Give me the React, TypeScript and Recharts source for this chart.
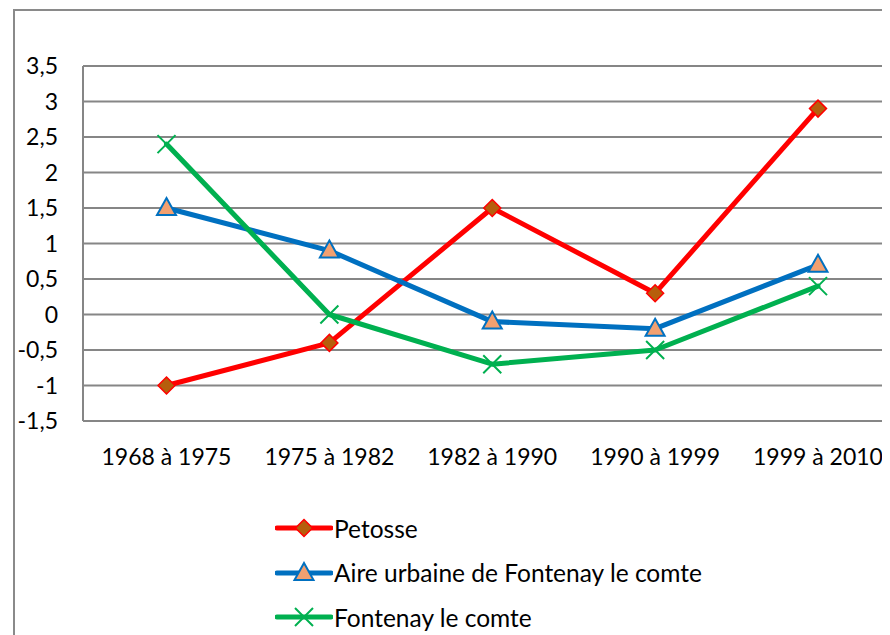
import React from 'react';
import { LineChart, Line, XAxis, YAxis, CartesianGrid, Legend } from 'recharts';

const categories = ['1968 à 1975', '1975 à 1982', '1982 à 1990', '1990 à 1999', '1999 à 2010'];
const petosse = [-1, -0.4, 1.5, 0.3, 2.9];
const aireUrbaine = [1.5, 0.9, -0.1, -0.2, 0.7];
const fontenay = [2.4, 0, -0.7, -0.5, 0.4];
const yTicks = [-1.5, -1, -0.5, 0, 0.5, 1, 1.5, 2, 2.5, 3, 3.5];
const seriesNames = ['Petosse', 'Aire urbaine de Fontenay le comte', 'Fontenay le comte'];

const data = categories.map((c, i) => ({
  cat: c,
  petosse: petosse[i],
  aire: aireUrbaine[i],
  fontenay: fontenay[i],
}));

const RED = '#FF0000';
const BLUE = '#0070C0';
const GREEN = '#00B050';
const DIAMOND_FILL = '#B65E0C';
const TRI_FILL = '#F2A070';
const FONT = 'Lato, "Open Sans", sans-serif';

const Diamond = (props: any) => {
  const { cx, cy } = props;
  if (cx == null || cy == null) return null;
  const r = 8.5;
  return (
    <path
      d={`M${cx},${cy - r}L${cx + r},${cy}L${cx},${cy + r}L${cx - r},${cy}Z`}
      fill={DIAMOND_FILL}
      stroke={RED}
      strokeWidth={1.5}
    />
  );
};

const Triangle = (props: any) => {
  const { cx, cy } = props;
  if (cx == null || cy == null) return null;
  return (
    <path
      d={`M${cx},${cy - 10}L${cx + 9.5},${cy + 7}L${cx - 9.5},${cy + 7}Z`}
      fill={TRI_FILL}
      stroke={BLUE}
      strokeWidth={2}
      strokeLinejoin="miter"
    />
  );
};

const Cross = (props: any) => {
  const { cx, cy } = props;
  if (cx == null || cy == null) return null;
  const r = 9;
  return (
    <path
      d={`M${cx - r},${cy - r}L${cx + r},${cy + r}M${cx + r},${cy - r}L${cx - r},${cy + r}`}
      stroke={GREEN}
      strokeWidth={2}
      fill="none"
    />
  );
};

const legendIcons = [
  (
    <g>
      <line x1={2} y1={12} x2={56} y2={12} stroke={RED} strokeWidth={5} strokeLinecap="round" />
      <Diamond cx={29} cy={12} />
    </g>
  ),
  (
    <g>
      <line x1={2} y1={12} x2={56} y2={12} stroke={BLUE} strokeWidth={5} strokeLinecap="round" />
      <Triangle cx={29} cy={12} />
    </g>
  ),
  (
    <g>
      <line x1={2} y1={12} x2={56} y2={12} stroke={GREEN} strokeWidth={5} strokeLinecap="round" />
      <Cross cx={29} cy={12} />
    </g>
  ),
];

const CustomLegend = () => (
  <div style={{ fontFamily: FONT, fontSize: 24.5, color: '#000' }}>
    {seriesNames.map((n, i) => (
      <div key={n} style={{ display: 'flex', alignItems: 'center', height: 44.5 }}>
        <svg width={58} height={24} style={{ display: 'block' }}>
          {legendIcons[i]}
        </svg>
        <span style={{ marginLeft: 1, whiteSpace: 'nowrap' }}>{n}</span>
      </div>
    ))}
  </div>
);

const fmt = (v: number) => String(v).replace('.', ',');

export default function App() {
  return (
    <div style={{ position: 'relative', width: 882, height: 627, overflow: 'hidden', background: '#fff' }}>
      <div
        style={{
          position: 'absolute',
          left: 5,
          top: 1,
          width: 2000,
          height: 2000,
          border: '2px solid #8a8a8a',
          boxSizing: 'border-box',
        }}
      />
      <div style={{ position: 'absolute', left: 0, top: 0 }}>
        <LineChart
          width={930}
          height={627}
          data={data}
          margin={{ top: 58, right: 40, bottom: 154, left: 0 }}
        >
          <CartesianGrid vertical={false} stroke="#868686" strokeWidth={2} />
          <XAxis
            dataKey="cat"
            padding={{ left: 83.5, right: 80 }}
            axisLine={false}
            tickLine={false}
            tickSize={6}
            tickMargin={22}
            height={60}
            interval={0}
            tick={{ fill: '#000', fontSize: 23, fontFamily: FONT }}
          />
          <YAxis
            domain={[-1.5, 3.5]}
            ticks={yTicks}
            interval={0}
            width={75}
            tickFormatter={fmt}
            axisLine={{ stroke: '#868686', strokeWidth: 2 }}
            tickLine={false}
            tickSize={6}
            tickMargin={19}
            tick={{ fill: '#000', fontSize: 23, fontFamily: FONT }}
          />
          <Legend
            layout="vertical"
            align="center"
            verticalAlign="middle"
            content={<CustomLegend />}
            wrapperStyle={{ left: 267, top: 498, width: 560, height: 140 }}
          />
          <Line
            type="linear"
            dataKey="petosse"
            name={seriesNames[0]}
            stroke={RED}
            strokeWidth={5}
            strokeLinejoin="round"
            strokeLinecap="round"
            dot={<Diamond />}
            activeDot={false}
            isAnimationActive={false}
          />
          <Line
            type="linear"
            dataKey="aire"
            name={seriesNames[1]}
            stroke={BLUE}
            strokeWidth={5}
            strokeLinejoin="round"
            strokeLinecap="round"
            dot={<Triangle />}
            activeDot={false}
            isAnimationActive={false}
          />
          <Line
            type="linear"
            dataKey="fontenay"
            name={seriesNames[2]}
            stroke={GREEN}
            strokeWidth={5}
            strokeLinejoin="round"
            strokeLinecap="round"
            dot={<Cross />}
            activeDot={false}
            isAnimationActive={false}
          />
        </LineChart>
      </div>
    </div>
  );
}
